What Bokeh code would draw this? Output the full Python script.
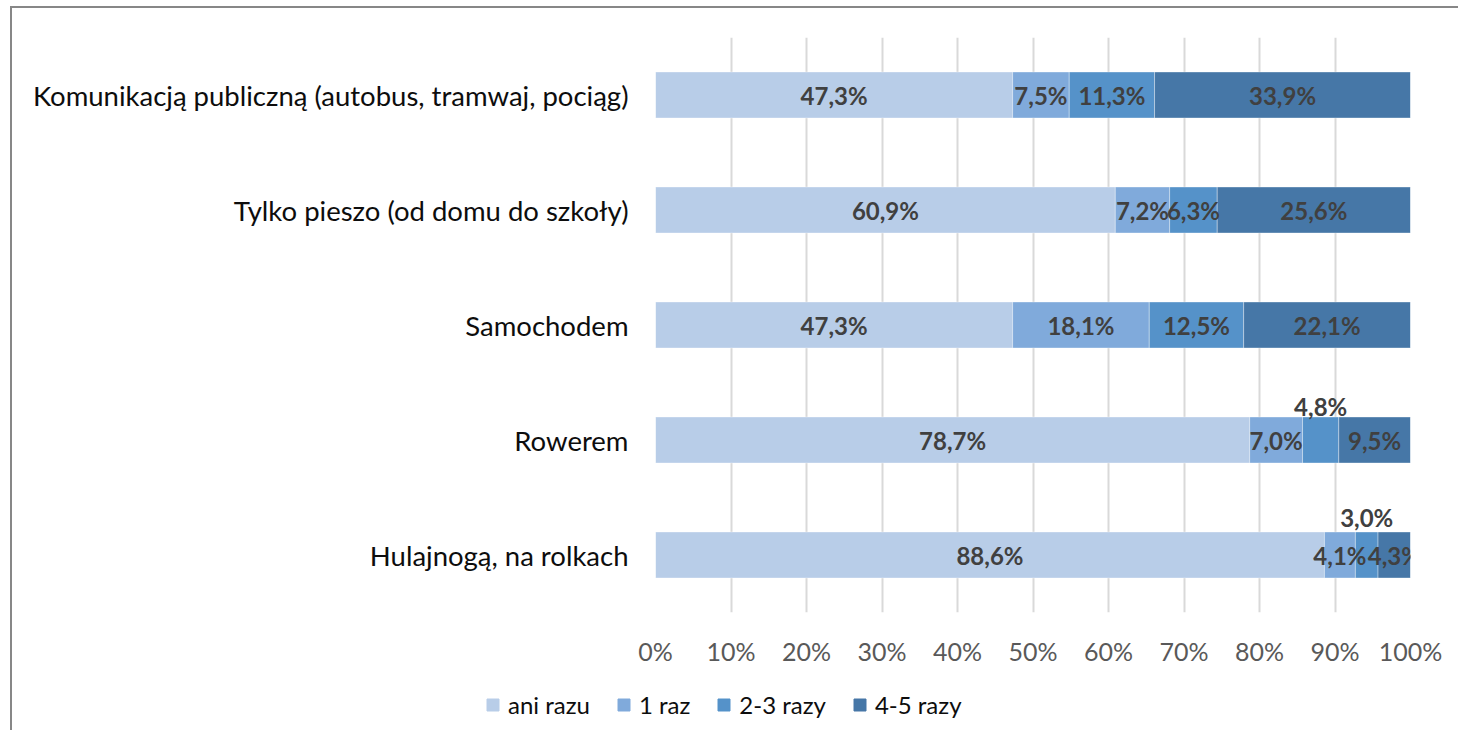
from bokeh.plotting import figure
from bokeh.layouts import column
from bokeh.models import ColumnDataSource, FactorRange, Range1d, PrintfTickFormatter, FixedTicker, Legend, LegendItem
from bokeh.core.properties import value
from bokeh.embed import file_html
from bokeh.resources import INLINE

categories = [
    "Komunikacją publiczną (autobus, tramwaj, pociąg)",
    "Tylko pieszo (od domu do szkoły)",
    "Samochodem",
    "Rowerem",
    "Hulajnogą, na rolkach",
]
series_names = ["ani razu", "1 raz", "2-3 razy", "4-5 razy"]
ani_razu = [47.3, 60.9, 47.3, 78.7, 88.6]
jeden_raz = [7.5, 7.2, 18.1, 7.0, 4.1]
dwa_trzy = [11.3, 6.3, 12.5, 4.8, 3.0]
cztery_piec = [33.9, 25.6, 22.1, 9.5, 4.3]
x_ticks = [0, 10, 20, 30, 40, 50, 60, 70, 80, 90, 100]

colors = ["#B8CDE8", "#80AADB", "#5592C9", "#4677A7"]
keys = ["s0", "s1", "s2", "s3"]
series = [ani_razu, jeden_raz, dwa_trzy, cztery_piec]

FONT = "Lato"

data = {"cat": categories}
for k, s in zip(keys, series):
    data[k] = s
src = ColumnDataSource(data)

p = figure(
    width=1446, height=660,
    y_range=FactorRange(*categories[::-1], range_padding=0),
    x_range=Range1d(0, 100),
    output_backend="svg", toolbar_location=None,
    min_border_left=643, min_border_right=48, min_border_top=29, min_border_bottom=56,
)
p.outline_line_color = None

renderers = p.hbar_stack(keys, y="cat", height=0.4, color=colors, source=src,
                         line_color="white", line_width=0.6, line_alpha=0.6)

# data labels
lx, ly, lt, loff = [], [], [], []
for i, c in enumerate(categories):
    cum = 0.0
    for s in series:
        v = s[i]
        lx.append(cum + v / 2)
        ly.append(c)
        lt.append(f"{v:.1f}%".replace(".", ","))
        loff.append(0)
        cum += v
# labels of narrow segments placed above the bar (as in the original)
loff[3 * 4 + 2] = -34
loff[4 * 4 + 2] = -38
lsrc = ColumnDataSource(dict(x=lx, y=ly, t=lt, off=loff))
p.text(x="x", y="y", text="t", y_offset="off", source=lsrc,
       text_font=value(FONT), text_font_style="bold", text_font_size="24px",
       text_color="#404040", text_align="center", text_baseline="middle")

p.xaxis.ticker = FixedTicker(ticks=x_ticks)
p.xaxis.formatter = PrintfTickFormatter(format="%d%%")
p.xaxis.axis_line_color = None
p.xaxis.major_tick_line_color = None
p.xaxis.minor_tick_line_color = None
p.xaxis.major_label_text_font = FONT
p.xaxis.major_label_text_font_size = "25px"
p.xaxis.major_label_text_color = "#595959"
p.xaxis.major_label_standoff = 17

p.yaxis.axis_line_color = None
p.yaxis.major_tick_line_color = None
p.yaxis.minor_tick_line_color = None
p.yaxis.major_label_text_font = FONT
p.yaxis.major_label_text_font_size = "27.5px"
p.yaxis.major_label_text_color = "#0D0D0D"
p.yaxis.major_label_standoff = 21

p.xgrid.grid_line_color = "#D9D9D9"
p.xgrid.grid_line_width = 2
p.ygrid.grid_line_color = None

# legend strip below the chart
lg = figure(
    width=1446, height=62, x_range=Range1d(0, 1), y_range=Range1d(0, 1),
    output_backend="svg", toolbar_location=None,
    x_axis_type=None, y_axis_type=None,
    min_border_left=0, min_border_right=0, min_border_top=0, min_border_bottom=0,
)
lg.frame_align = False
lg.outline_line_color = None
lg.grid.visible = False
leg_src = ColumnDataSource(dict(y=[-5], l=[-5], r=[-4]))
leg_r = [lg.hbar(y="y", left="l", right="r", height=0.1, color=c, source=leg_src) for c in colors]
legend = Legend(
    items=[LegendItem(label=n, renderers=[r]) for n, r in zip(series_names, leg_r)],
    orientation="horizontal", location=(473, 11),
    glyph_width=15, glyph_height=15, label_height=24, label_standoff=8, spacing=26,
    padding=0, margin=0,
    label_text_font=FONT, label_text_font_size="24px", label_text_color="#0D0D0D",
    border_line_color=None, background_fill_alpha=0,
)
lg.add_layout(legend, "center")

layout = column(p, lg, spacing=0)
layout.styles = {"border-top": "2px solid #878787", "border-left": "2px solid #878787",
                 "margin-left": "10px", "margin-top": "6px"}
open("out.html", "w").write(file_html(layout, INLINE))
